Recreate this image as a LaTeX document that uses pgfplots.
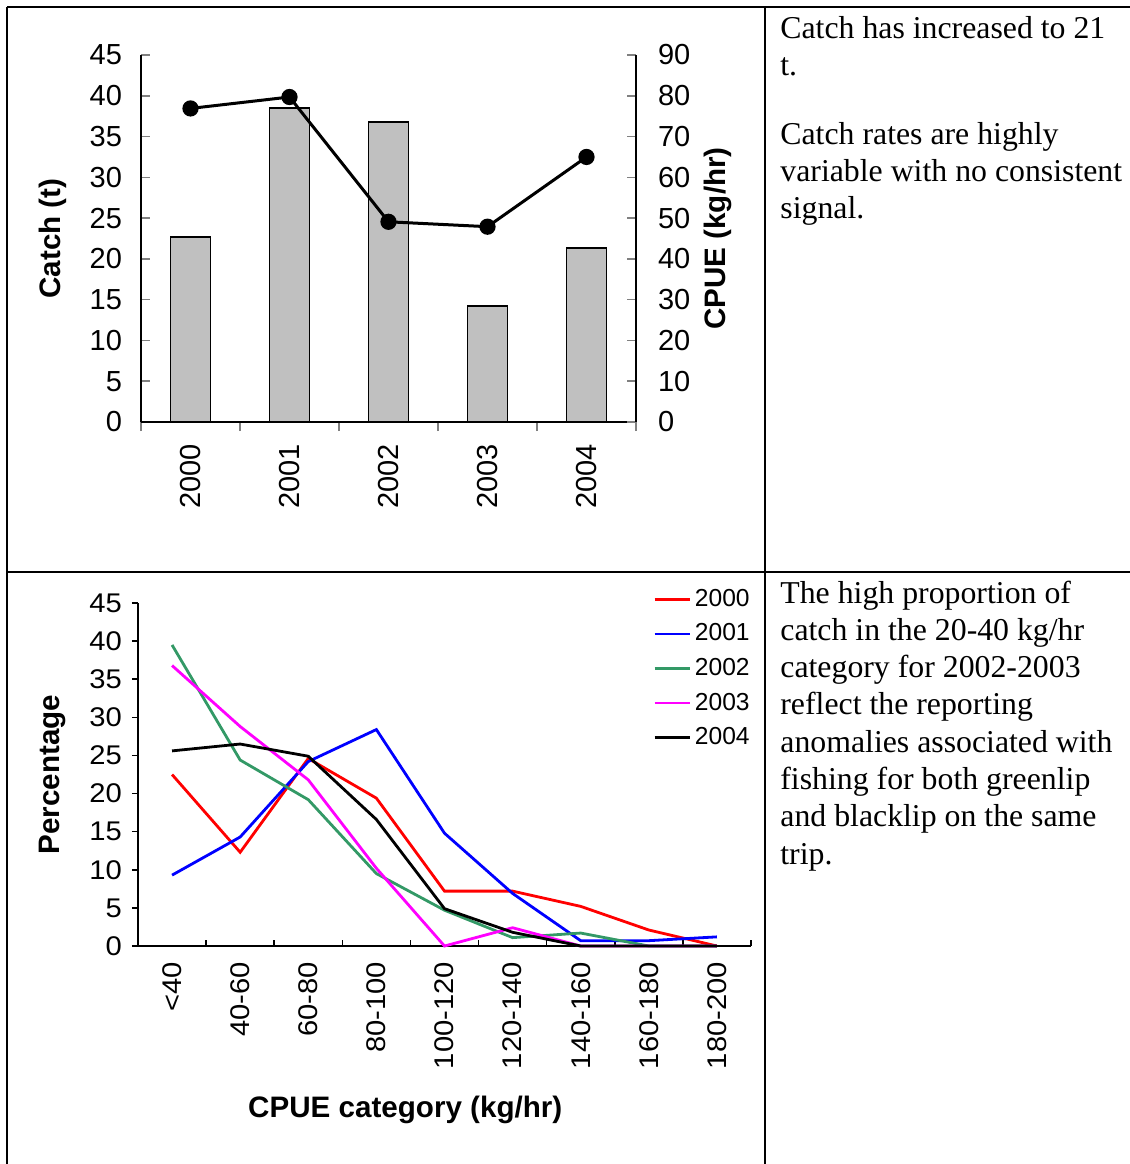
\documentclass[border=0pt]{standalone}
\usepackage{fontspec}
\setmainfont{Liberation Serif}
\newfontfamily\arial{Liberation Sans}
\newfontfamily\arialw[FakeStretch=1.08]{Liberation Sans}
\usepackage{pgfplots}
\pgfplotsset{compat=1.18}
\definecolor{barfill}{RGB}{192,192,192}
\definecolor{seagreen}{RGB}{51,153,102}
\definecolor{tickgray}{RGB}{128,128,128}
\definecolor{pureMagenta}{RGB}{255,0,255}
\definecolor{pureRed}{RGB}{255,0,0}
\definecolor{pureBlue}{RGB}{0,0,255}
\begin{document}
\begin{tikzpicture}
\useasboundingbox (0,0) rectangle (565pt,-582pt);
% table rules
\draw[line width=1.3pt] (3.5pt,-3.5pt) -- (565pt,-3.5pt);
\draw[line width=1pt] (3.5pt,-3.5pt) -- (3.5pt,-582pt);
\draw[line width=1pt] (382.5pt,-3.5pt) -- (382.5pt,-582pt);
\draw[line width=1.3pt] (3.5pt,-286pt) -- (565pt,-286pt);

% ---------- top chart: catch bars ----------
\begin{axis}[
  at={(70.5pt,-211pt)}, anchor=south west,
  scale only axis, width=247.5pt, height=183.5pt,
  xmin=-0.5, xmax=4.5, ymin=0, ymax=45,
  axis x line*=bottom, axis y line*=left, axis line style={-, line width=0.8pt},
  tick align=inside, major tick length=4.5pt,
  tick style={color=tickgray, line width=0.8pt},
  ytick={0,5,...,45},
  xtick={-0.5,0.5,...,4.5}, xticklabels={},
  extra x ticks={0,1,2,3,4},
  extra x tick labels={2000,2001,2002,2003,2004},
  extra x tick style={major tick length=0pt},
  /pgf/number format/assume math mode=true,
  yticklabel style={font=\arial\fontsize{14.5}{17}\selectfont, xshift=-6pt},
  xticklabel style={font=\arial\fontsize{14.5}{17}\selectfont, rotate=90, anchor=east, xshift=-7.5pt},
  every axis y label/.style={at={(axis description cs:-0.178,0.5)}, rotate=90, anchor=center},
  ylabel={Catch (t)},
  ylabel style={font=\arial\bfseries\fontsize{14.8}{17}\selectfont},
  ybar, bar width=20pt,
]
\addplot[fill=barfill, draw=black, line width=0.8pt] coordinates {(0,22.7) (1,38.5) (2,36.8) (3,14.2) (4,21.3)};
\end{axis}

% ---------- top chart: CPUE line ----------
\begin{axis}[
  at={(70.5pt,-211pt)}, anchor=south west,
  scale only axis, width=247.5pt, height=183.5pt,
  xmin=-0.5, xmax=4.5, ymin=0, ymax=90,
  axis x line=none, axis y line*=right, axis line style={-, line width=0.8pt},
  tick align=inside, major tick length=4.5pt,
  tick style={color=tickgray, line width=0.8pt},
  ytick={0,10,...,90},
  /pgf/number format/assume math mode=true,
  yticklabel style={font=\arial\fontsize{14.5}{17}\selectfont, xshift=7.5pt},
  every axis y label/.style={at={(axis description cs:1.166,0.5)}, rotate=90, anchor=center},
  ylabel={CPUE (kg/hr)},
  ylabel style={font=\arial\bfseries\fontsize{14.8}{17}\selectfont},
  clip=false,
]
\addplot[black, line width=1.5pt, mark=*, mark size=3.3pt] coordinates {(0,76.9) (1,79.7) (2,49.1) (3,47.9) (4,65.0)};
\end{axis}

% ---------- bottom chart ----------
\begin{axis}[
  at={(69pt,-473pt)}, anchor=south west,
  scale only axis, width=306.5pt, height=171.5pt,
  xmin=-0.5, xmax=8.5, ymin=0, ymax=45,
  axis lines*=left, axis line style={-, line width=0.8pt},
  tick align=outside, major tick length=3pt,
  tick style={color=black, line width=0.8pt},
  xtick style={yshift=3pt},
  ytick={0,5,...,45},
  xtick={-0.5,0.5,...,8.5}, xticklabels={},
  extra x ticks={0,1,2,3,4,5,6,7,8},
  extra x tick labels={<40,40-60,60-80,80-100,100-120,120-140,140-160,160-180,180-200},
  extra x tick style={major tick length=0pt},
  /pgf/number format/assume math mode=true,
  yticklabel style={font=\arialw\fontsize{13.5}{16}\selectfont, xshift=-1.5pt},
  xticklabel style={font=\arialw\fontsize{13.5}{16}\selectfont, rotate=90, anchor=east, xshift=-4.5pt},
  every axis y label/.style={at={(axis description cs:-0.139,0.5)}, rotate=90, anchor=center},
  ylabel={Percentage},
  ylabel style={font=\arial\bfseries\fontsize{14.8}{17}\selectfont},
  every axis x label/.style={at={(axis description cs:0.436,-0.478)}, anchor=center},
  xlabel={CPUE category (kg/hr)},
  xlabel style={font=\arial\bfseries\fontsize{14.8}{17}\selectfont},
  legend style={at={(axis description cs:1.005,1.053)}, anchor=north east, draw=none, fill=none,
    inner sep=0pt, row sep=3.2pt, font=\arial\fontsize{12.3}{14}\selectfont},
  legend cell align=left,
  legend image code/.code={\draw[#1] (0pt,0pt) -- (17.5pt,0pt);},
  clip=false,
]
\addplot[pureRed, line width=1.4pt] coordinates {(0,22.5) (1,12.3) (2,24.6) (3,19.4) (4,7.2) (5,7.2) (6,5.2) (7,2.1) (8,0)};
\addplot[pureBlue, line width=1.4pt] coordinates {(0,9.3) (1,14.3) (2,24.2) (3,28.4) (4,14.8) (5,6.9) (6,0.7) (7,0.7) (8,1.2)};
\addplot[seagreen, line width=1.4pt] coordinates {(0,39.5) (1,24.4) (2,19.2) (3,9.5) (4,4.7) (5,1.1) (6,1.7) (7,0) (8,0)};
\addplot[pureMagenta, line width=1.4pt] coordinates {(0,36.8) (1,28.8) (2,21.8) (3,10.2) (4,0) (5,2.4) (6,0) (7,0) (8,0)};
\addplot[black, line width=1.4pt] coordinates {(0,25.6) (1,26.5) (2,24.9) (3,16.6) (4,4.9) (5,1.8) (6,0) (7,0) (8,0)};
\legend{2000,2001,2002,2003,2004}
\end{axis}

% ---------- comments ----------
\begin{scope}[every node/.style={anchor=base west, inner sep=0pt, font=\fontsize{15.9}{18.65}\selectfont}]
\node at (390pt,-19pt) {Catch has increased to 21};
\node at (390pt,-37.65pt) {t.};
\node at (390pt,-72pt) {Catch rates are highly};
\node at (390pt,-90.65pt) {variable with no consistent};
\node at (390pt,-109.3pt) {signal.};
\node at (390pt,-301.5pt) {The high proportion of};
\node at (390pt,-320.15pt) {catch in the 20-40 kg/hr};
\node at (390pt,-338.8pt) {category for 2002-2003};
\node at (390pt,-357.45pt) {reflect the reporting};
\node at (390pt,-376.1pt) {anomalies associated with};
\node at (390pt,-394.75pt) {fishing for both greenlip};
\node at (390pt,-413.4pt) {and blacklip on the same};
\node at (390pt,-432.05pt) {trip.};
\end{scope}
\end{tikzpicture}
\end{document}
